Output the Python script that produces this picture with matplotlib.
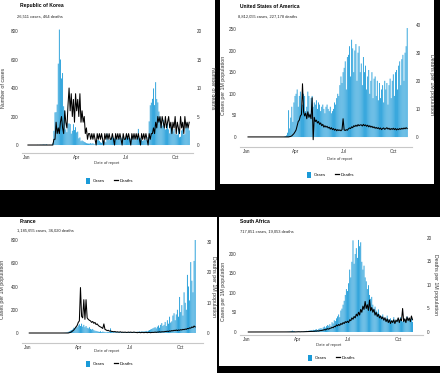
import matplotlib
matplotlib.use("Agg")
import matplotlib.pyplot as plt
import matplotlib.dates as mdates
from matplotlib.patches import Rectangle, Patch
from matplotlib.lines import Line2D
import pandas as pd

plt.rcParams['font.family'] = ['Liberation Sans Narrow', 'Liberation Sans', 'DejaVu Sans']

# one value every second reporting day, 3 Jan 2020 -> 29 Oct 2020
report_dates = pd.date_range("2020-01-03", periods=150, freq="2D")

# ---- Republic of Korea (counts) ----
kor_cases = [0, 0, 0, 0, 0, 0, 0, 0, 0, 1, 0, 1, 2, 1, 4,
             3, 2, 5, 1, 0, 1, 0, 1, 15, 100, 229, 231, 284, 571,
             810, 600, 467, 505, 272, 242, 110, 90, 150, 152, 147, 80, 100, 146, 105, 125,
             89, 94, 47, 53, 27, 32, 27, 22, 18, 13, 11, 10, 10, 14, 9,
             13, 8, 4, 18, 34, 35, 29, 19, 15, 32, 20, 25, 19, 79, 39,
             35, 49, 51, 57, 50, 45, 49, 37, 43, 49, 48, 51, 39, 62, 42,
             51, 63, 61, 50, 50, 44, 62, 39, 60, 34, 45, 63, 113, 48, 48, 36,
             30, 33, 43, 36, 34, 56, 166, 279, 297, 324, 397, 280, 441, 323, 299,
             235, 195, 168, 136, 176, 121, 109, 113, 153, 110, 82, 125, 114, 95,
             113, 77, 75, 73, 114, 54, 58, 102, 110, 73, 76, 121, 155, 119, 103]
kor_deaths = [0, 0, 0, 0, 0, 0, 0, 0, 0, 0, 0, 0, 0, 0, 0,
              0, 0, 0, 0, 0, 0, 0, 0, 0, 1, 1, 4, 2, 3,
              2, 4, 5, 3, 2, 6, 4, 3, 7, 10, 6, 9, 5, 8, 4, 9,
              6, 8, 5, 9, 4, 6, 4, 5, 2, 3, 1, 2, 2, 1, 2,
              1, 2, 1, 0, 2, 1, 2, 1, 2, 1, 0, 2, 1, 2, 1,
              2, 1, 1, 2, 1, 0, 2, 1, 2, 1, 2, 1, 0, 2, 1,
              1, 2, 1, 2, 1, 0, 2, 1, 2, 1, 2, 1, 2, 1, 0, 2,
              1, 2, 1, 2, 1, 0, 2, 1, 2, 2, 3, 2, 4, 3, 5,
              4, 5, 3, 5, 4, 3, 5, 3, 4, 5, 3, 4, 2, 4,
              3, 5, 2, 4, 3, 2, 5, 3, 4, 2, 5, 3, 4, 3, 4]

# ---- United States of America (per 1M) ----
usa_cases = [0, 0, 0, 0, 0, 0, 0, 0, 0, 0, 0, 0, 0, 0, 0,
             0, 0, 0, 0, 0, 0, 0, 0, 0, 0, 0, 0, 0, 0,
             0, 0, 0, 0, 0, 1, 2, 4, 10, 62, 20, 45, 70, 35, 80, 95,
             100, 110, 70, 95, 105, 60, 75, 100, 95, 60, 70, 105, 95, 55, 90,
             95, 70, 80, 75, 85, 65, 80, 75, 60, 70, 75, 65, 55, 70, 75,
             65, 60, 70, 55, 60, 65, 80, 75, 90, 100, 95, 120, 140, 125, 150,
             160, 175, 110, 185, 190, 210, 140, 225, 205, 150, 200, 215, 130, 195, 210, 150,
             170, 120, 185, 150, 165, 110, 140, 155, 100, 130, 150, 90, 135, 140, 95,
             130, 85, 125, 90, 110, 120, 80, 130, 110, 125, 75, 120, 135, 90,
             130, 145, 95, 150, 155, 110, 165, 175, 120, 180, 190, 130, 195, 210, 252]
usa_deaths = [0, 0, 0, 0, 0, 0, 0, 0, 0, 0, 0, 0, 0, 0, 0,
              0, 0, 0, 0, 0, 0, 0, 0, 0, 0, 0, 0, 0, 0,
              0, 0, 0, 0, 0, 0, 0, 0, 0, 0, 0.1, 0.2, 0.4, 0.8, 1.2, 1.8,
              2.5, 4, 5.5, 6, 7.5, 8, 19, 9, 7.5, 8.5, 6.5, 9, 7, 8, 6.5,
              14, -1, 7, 5.5, 6, 5, 5.5, 4.5, 5, 4, 4.5, 3.5, 4, 3.5, 3.8,
              3.2, 3.5, 2.8, 3.3, 2.6, 3.0, 2.4, 2.8, 2.2, 2.6, 2.3, 2.5, 2.2, 2.6, 6.5,
              2.5, 2.3, 2.6, 2.4, 2.9, 3.2, 3.0, 3.6, 3.3, 4.0, 3.7, 4.2, 3.8, 4.4, 4.0, 4.3,
              4.3, 3.9, 4.5, 4.0, 4.3, 3.8, 4.2, 3.6, 4.0, 3.5, 3.8, 3.3, 3.6, 3.1, 3.4,
              3.0, 3.3, 2.8, 3.2, 2.6, 3.0, 3.2, 2.7, 3.0, 3.3, 2.8, 3.1, 2.6, 3.0,
              2.7, 3.1, 2.6, 3.0, 2.5, 2.9, 2.6, 3.0, 2.7, 3.1, 2.8, 3.2, 2.9, 3.3, 3.0]

# ---- France (per 1M) ----
fra_cases = [0, 0, 0, 0, 0, 0, 0, 0, 0, 0, 0, 0, 0, 0, 0,
             0, 0, 0, 0, 0, 0, 0, 0, 0, 0, 0, 0, 0, 0.1,
             0.3, 0.5, 1, 2, 3, 5, 10, 15, 20, 25, 30, 45, 40, 55, 50, 65,
             75, 60, 80, 55, 70, 50, 60, 45, 40, 50, 35, 30, 35, 25, 20,
             18, 15, 12, 10, 15, 8, 12, 10, 8, 6, 10, 8, 6, 40, 10,
             8, 10, 7, 6, 8, 6, 7, 5, 6, 8, 6, 7, 8, 6, 9,
             8, 7, 9, 8, 10, 7, 9, 12, 10, 13, 11, 14, 12, 15, 14, 18,
             15, 20, 25, 30, 35, 40, 45, 50, 40, 55, 65, 45, 70, 85, 60,
             70, 95, 60, 110, 80, 140, 90, 100, 150, 170, 110, 160, 200, 140,
             310, 180, 240, 150, 350, 260, 200, 500, 400, 280, 610, 450, 350, 620, 800]
fra_deaths = [0, 0, 0, 0, 0, 0, 0, 0, 0, 0, 0, 0, 0, 0, 0,
              0, 0, 0, 0, 0, 0, 0, 0, 0, 0, 0, 0, 0, 0,
              0, 0, 0, 0, 0, 0, 0, 0.1, 0.2, 0.4, 0.7, 1.0, 1.5, 2.0, 2.5, 3.5,
              4.0, 15, 5.5, 5, 11, 4.5, 11, 5, 4.5, 4.2, 4, 3.5, 3.8, 3.2, 3.5,
              2.8, 3.0, 2.5, 2.2, 2.0, 1.8, 1.5, 3.0, 1.2, 1.0, 0.8, 0.9, 0.6, 0.7, 0.5,
              0.5, 0.4, 0.5, 0.3, 0.4, 0.3, 0.3, 0.4, 0.2, 0.3, 0.2, 0.3, 0.2, 0.2, 0.3,
              0.2, 0.3, 0.2, 0.2, 0.3, 0.2, 0.2, 0.1, 0.2, 0.2, 0.1, 0.2, 0.2, 0.1, 0.2, 0.2,
              0.1, 0.2, 0.2, 0.1, 0.2, 0.2, 0.2, 0.3, 0.2, 0.3, 0.3, 0.4, 0.3, 0.4, 0.4,
              0.4, 0.5, 0.5, 0.6, 0.5, 0.7, 0.6, 0.8, 0.7, 0.9, 0.8, 1.0, 0.8, 1.0,
              0.9, 1.1, 1.0, 1.2, 1.1, 1.3, 1.2, 1.5, 1.4, 1.7, 1.6, 2.0, 1.8, 2.3, 2.0]

# ---- South Africa (per 1M) ----
zaf_cases = [0, 0, 0, 0, 0, 0, 0, 0, 0, 0, 0, 0, 0, 0, 0,
             0, 0, 0, 0, 0, 0, 0, 0, 0, 0, 0, 0, 0, 0,
             0, 0, 0, 0, 0, 0.1, 0.2, 0.5, 0.8, 1.5, 2.5, 3.5, 2.0, 1.8, 0.5, 0.8,
             1.0, 1.5, 0.8, 1.0, 0.5, 1.2, 1.5, 2.0, 3.0, 2.5, 3.5, 4.0, 5.0, 4.0, 5.5,
             5, 6, 7, 5, 8, 9, 10, 8, 12, 14, 11, 15, 18, 16, 20,
             15, 25, 22, 30, 28, 35, 40, 45, 38, 55, 60, 70, 80, 95, 110,
             105, 125, 160, 140, 180, 235, 175, 200, 215, 190, 236, 220, 230, 180, 160, 170,
             140, 130, 110, 120, 95, 85, 90, 70, 60, 65, 55, 50, 58, 45, 42,
             40, 45, 35, 38, 30, 42, 33, 28, 35, 25, 30, 38, 27, 32,
             28, 35, 25, 38, 30, 27, 36, 29, 33, 40, 28, 35, 30, 38, 26]
zaf_deaths = [0, 0, 0, 0, 0, 0, 0, 0, 0, 0, 0, 0, 0, 0, 0,
              0, 0, 0, 0, 0, 0, 0, 0, 0, 0, 0, 0, 0, 0,
              0, 0, 0, 0, 0, 0, 0, 0, 0, 0, 0, 0, 0, 0, 0.02, 0.03,
              0.03, 0.05, 0.03, 0.05, 0.04, 0.05, 0.06, 0.05, 0.1, 0.08, 0.1, 0.12, 0.1, 0.15, 0.12,
              0.15, 0.2, 0.18, 0.25, 0.2, 0.3, 0.3, 0.35, 0.4, 0.5, 0.45, 0.6, 0.7, 0.6, 0.8,
              0.8, 1.0, 0.9, 1.2, 1.1, 1.5, 1.3, 1.6, 1.4, 1.8, 1.6, 2.0, 1.8, 2.2, 2.0,
              2.3, 2.0, 2.6, 2.4, 3.0, 2.7, 3.3, 3.0, 3.8, 3.4, 4.2, 3.6, 4.8, 4.2, 5.5, 4.8,
              6.5, 5.0, 5.8, 4.6, 6.8, 4.5, 5.2, 4.2, 4.8, 3.6, 4.2, 3.3, 3.8, 3.0, 3.4,
              2.8, 3.2, 2.5, 3.0, 2.2, 2.8, 2.0, 2.6, 1.8, 2.4, 2.0, 2.6, 1.8, 2.5,
              2.2, 3.0, 2.0, 2.8, 2.4, 5.0, 2.2, 2.8, 2.0, 3.2, 2.4, 3.0, 2.2, 3.4, 2.6]

titles = ["Republic of Korea", "United States of America", "France", "South Africa"]
subtitles = ["26,511 cases, 464 deaths", "8,812,055 cases, 227,178 deaths",
             "1,185,655 cases, 36,020 deaths", "717,851 cases, 19,053 deaths"]
left_labels = ["Number of cases", "Cases per 1M population",
               "Cases per 1M population", "Cases per 1M population"]
right_labels = ["Number of deaths", "Deaths per 1M population",
                "Deaths per 1M population", "Deaths per 1M population"]
left_ticks = [[0, 200, 400, 600, 800], [0, 50, 100, 150, 200, 250],
              [0, 200, 400, 600, 800], [0, 50, 100, 150, 200]]
right_ticks = [[0, 5, 10, 15, 20], [0, 10, 20, 30, 40],
               [0, 10, 20, 30], [0, 5, 10, 15, 20]]
all_cases = [kor_cases, usa_cases, fra_cases, zaf_cases]
all_deaths = [kor_deaths, usa_deaths, fra_deaths, zaf_deaths]

BLUE = '#1a9ad8'
W, H = 440, 373

def fx(x):
    return x / W

def fy(y):
    return 1 - y / H

# pixel layout: panel box, axes box (l, t, r, b), ylims, xlim, text positions
layout = [
    dict(panel=(0, 0, 215, 190), ax=(22, 29, 193, 153), yl=(-56, 814), yr=(-1.4, 20.35),
         xlim=("2019-12-23", "2020-11-03"), title=(20, 6), sub=(17, 17),
         ylab_l=(4, 88), ylab_r=(212, 88), xlab=(107, 163), leg=(110, 181)),
    dict(panel=(220, 0, 434, 184), ax=(240, 25, 412, 147), yl=(-23, 259), yr=(-3.6, 40),
         xlim=("2019-12-19", "2020-11-05"), title=(240, 6), sub=(238, 17),
         ylab_l=(224, 85), ylab_r=(431, 85), xlab=(340, 159), leg=(331, 175)),
    dict(panel=(0, 217, 217, 373), ax=(22, 240, 203, 343), yl=(-86, 800), yr=(-3.3, 30.7),
         xlim=("2019-12-21", "2020-11-10"), title=(20, 222), sub=(17, 231),
         ylab_l=(3, 289), ylab_r=(213, 287), xlab=(107, 351), leg=(110, 364)),
    dict(panel=(219, 217, 440, 366), ax=(240, 238, 423, 335), yl=(-7.7, 241), yr=(-0.64, 20),
         xlim=("2019-12-19", "2020-11-15"), title=(240, 222), sub=(240, 232),
         ylab_l=(224, 291), ylab_r=(435, 285), xlab=(329, 345), leg=(332, 358)),
]

fig = plt.figure(figsize=(W / 100, H / 100), dpi=100, facecolor='black')

for i, lay in enumerate(layout):
    x0, y0, x1, y1 = lay['panel']
    fig.add_artist(Rectangle((fx(x0), fy(y1)), (x1 - x0) / W, (y1 - y0) / H,
                             transform=fig.transFigure, facecolor='white',
                             edgecolor='none', zorder=-10))
    l, t, r, b = lay['ax']
    ax = fig.add_axes([fx(l), fy(b), (r - l) / W, (b - t) / H])
    ax.set_facecolor('none')
    # thin bars, no pixel snapping so they blend like the dense daily bars
    bars = ax.bar(report_dates, all_cases[i], width=1.6, color=BLUE, linewidth=0)
    for p in bars:
        p.set_snap(False)
    ax.set_ylim(*lay['yl'])
    ax.set_yticks(left_ticks[i])
    ax.set_xlim(pd.Timestamp(lay['xlim'][0]), pd.Timestamp(lay['xlim'][1]))
    ax.xaxis.set_major_locator(mdates.MonthLocator(bymonth=[1, 4, 7, 10]))
    ax.xaxis.set_major_formatter(mdates.DateFormatter('%b'))

    ax2 = ax.twinx()
    ax2.plot(report_dates, all_deaths[i], color='black', lw=0.75)
    ax2.set_ylim(*lay['yr'])
    ax2.set_yticks(right_ticks[i])

    for a in (ax, ax2):
        for s in a.spines.values():
            s.set_visible(False)
        a.tick_params(axis='both', length=0, labelsize=3.3, colors='#333333', pad=2.5)
    ax.spines['bottom'].set_visible(True)
    ax.spines['bottom'].set_color('#c8c8c8')
    ax.spines['bottom'].set_linewidth(0.8)
    ax.tick_params(axis='x', pad=1.5)

    fig.text(fx(lay['title'][0]), fy(lay['title'][1]), titles[i], fontsize=3.6,
             fontweight='bold', ha='left', va='center')
    fig.text(fx(lay['sub'][0]), fy(lay['sub'][1]), subtitles[i], fontsize=2.9,
             ha='left', va='center', color='#222222')
    fig.text(fx(lay['ylab_l'][0]), fy(lay['ylab_l'][1]), left_labels[i], fontsize=3.8,
             rotation=90, ha='center', va='center', color='#333333')
    fig.text(fx(lay['ylab_r'][0]), fy(lay['ylab_r'][1]), right_labels[i], fontsize=3.8,
             rotation=270, ha='center', va='center', color='#333333')
    fig.text(fx(lay['xlab'][0]), fy(lay['xlab'][1]), "Date of report", fontsize=3.0,
             ha='center', va='center', color='#333333')
    handles = [Patch(facecolor=BLUE, edgecolor='none'), Line2D([], [], color='black', lw=0.9)]
    fig.legend(handles, ['Cases', 'Deaths'], loc='center',
               bbox_to_anchor=(fx(lay['leg'][0]), fy(lay['leg'][1])), ncol=2,
               frameon=False, fontsize=3.1, handlelength=0.9, handleheight=1.5,
               handletextpad=0.5, columnspacing=2.2, borderpad=0)

fig.savefig("out.png", dpi=100, facecolor='black')
